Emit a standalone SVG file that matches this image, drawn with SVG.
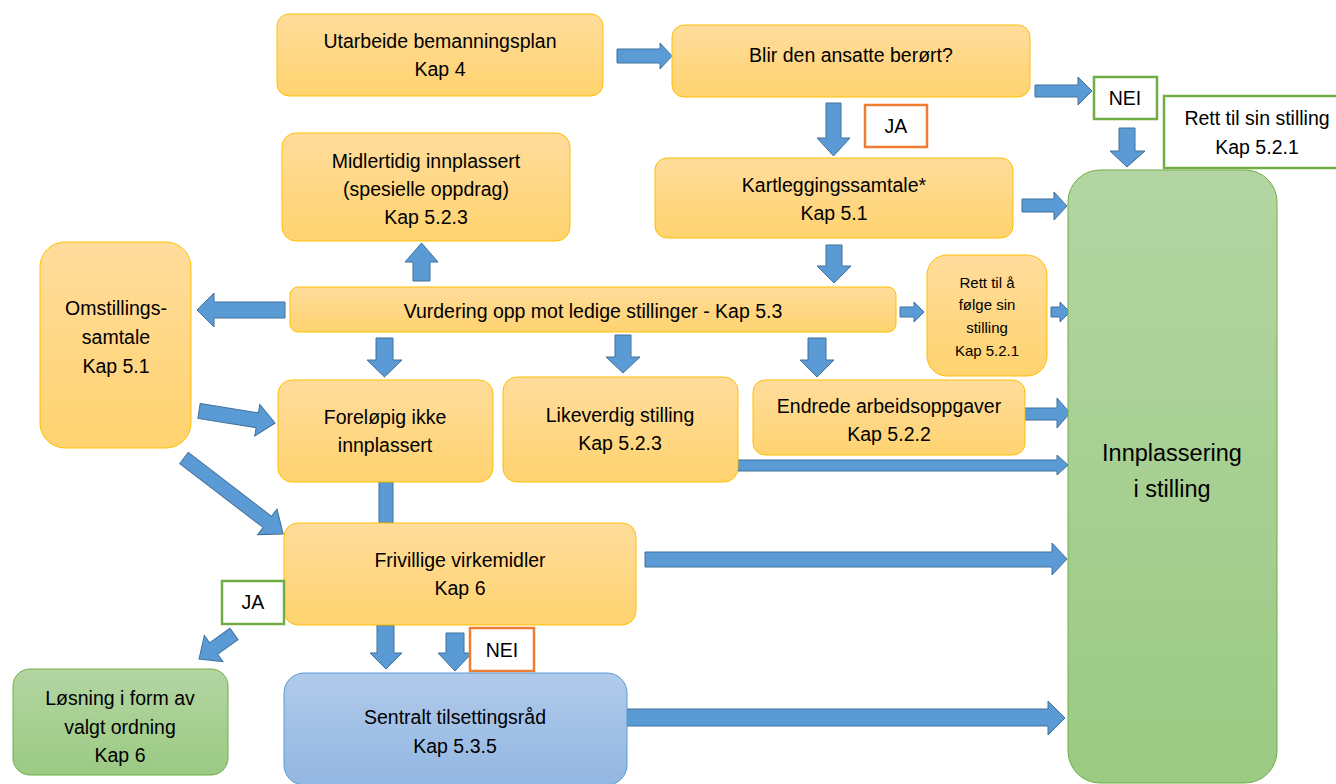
<svg xmlns="http://www.w3.org/2000/svg" width="1336" height="784" viewBox="0 0 1336 784">
<defs>
<linearGradient id="gO" x1="0" y1="0" x2="0" y2="1"><stop offset="0" stop-color="#FFDC9C"/><stop offset="1" stop-color="#FFD36F"/></linearGradient>
<linearGradient id="gG" x1="0" y1="0" x2="0" y2="1"><stop offset="0" stop-color="#B3D5A2"/><stop offset="1" stop-color="#9BCA83"/></linearGradient>
<linearGradient id="gB" x1="0" y1="0" x2="0" y2="1"><stop offset="0" stop-color="#B0CAEA"/><stop offset="1" stop-color="#93B7E2"/></linearGradient>
<style>
.o{fill:url(#gO);stroke:#FFC000;stroke-width:1}
.g{fill:url(#gG);stroke:#70AD47;stroke-width:1}
.b{fill:url(#gB);stroke:#5B9BD5;stroke-width:1}
.lg{fill:#FFFFFF;stroke:#70AD47;stroke-width:2.5}
.lo{fill:#FFFFFF;stroke:#ED7D31;stroke-width:2.5}
.ar{fill:#5B9BD5;stroke:#41719C;stroke-width:1;stroke-linejoin:miter}
text{font-family:"Liberation Sans",Arial,sans-serif;font-size:19.5px;fill:#000;text-anchor:middle;dominant-baseline:central}
.s{font-size:15px}
.big{font-size:23.5px}
</style>
</defs>
<rect width="1336" height="784" fill="#FFFFFF"/>
<g id="connectors">
<polygon class="ar" points="617,49 660,49 660,43 672,56 660,69 660,63 617,63"/>
<polygon class="ar" points="1035,85 1078,85 1078,77 1092,91 1078,105 1078,97 1035,97"/>
<polygon class="ar" points="1119,128 1135,128 1135,151 1145,151 1127,167 1110,151 1119,151"/>
<polygon class="ar" points="826,103 841,103 841,138 850,138 833.5,156 817,138 826,138"/>
<polygon class="ar" points="1022,199 1054,199 1054,192 1067,206 1054,220 1054,212 1022,212"/>
<polygon class="ar" points="826,245 842,245 842,266 851,266 834,283 817,266 826,266"/>
<polygon class="ar" points="413,281 430,281 430,262 438,262 421.5,243 405,262 413,262"/>
<polygon class="ar" points="285,302 214,302 214,293 197,310 214,327 214,318 285,318"/>
<polygon class="ar" points="900,307 914,307 914,302 924,312 914,322 914,317 900,317"/>
<polygon class="ar" points="1051,307 1060,307 1060,302 1070,312 1060,322 1060,317 1051,317"/>
<polygon class="ar" points="376,338 393,338 393,360 402,360 384.5,377 367,360 376,360"/>
<polygon class="ar" points="615,335 631,335 631,357 640,357 623,373 606,357 615,357"/>
<polygon class="ar" points="808,338 826,338 826,360 834,360 817,377 800,360 808,360"/>
<polygon class="ar" points="1025,408 1057,408 1057,398 1070,413 1057,428 1057,420 1025,420"/>
<polygon class="ar" points="738,460 1057,460 1057,455 1068,465 1057,475 1057,471 738,471"/>
<polygon class="ar" transform="translate(199,411) rotate(9)" points="0,-7.5 59,-7.5 59,-16 77,0 59,16 59,7.5 0,7.5"/>
<polygon class="ar" transform="translate(184,458) rotate(37.5)" points="0,-7 105,-7 105,-16 125,0 105,16 105,7 0,7"/>
<polygon class="ar" points="379,482 393,482 393,523 379,523"/>
<polygon class="ar" points="645,552 1052,552 1052,543 1067,559 1052,575 1052,567 645,567"/>
<polygon class="ar" points="626,709 1048,709 1048,701 1065,718 1048,735 1048,726 626,726"/>
<polygon class="ar" transform="translate(234,634) rotate(144.5)" points="0,-7 25,-7 25,-16 43,0 25,16 25,7 0,7"/>
<polygon class="ar" points="377,625 394,625 394,653 402,653 386,669 370,653 377,653"/>
<polygon class="ar" points="446,633 464,633 464,653 472,653 455,671 438,653 446,653"/>
</g>
<g id="utarbeide"><rect class="o" x="277" y="14" width="326" height="82" rx="12"/><text x="440" y="41">Utarbeide bemanningsplan</text><text x="440" y="69">Kap 4</text></g>
<g id="blir"><rect class="o" x="672" y="25" width="358" height="72" rx="12"/><text x="851" y="55">Blir den ansatte berørt?</text></g>
<g id="nei-top"><rect class="lg" x="1094" y="77" width="63" height="42"/><text x="1125" y="98">NEI</text></g>
<g id="rett-sin"><rect class="lg" x="1164" y="96" width="190" height="72"/><text x="1257" y="118">Rett til sin stilling</text><text x="1257" y="147">Kap 5.2.1</text></g>
<g id="ja-top"><rect class="lo" x="865" y="105" width="62" height="42"/><text x="896" y="126">JA</text></g>
<g id="kartlegging"><rect class="o" x="655" y="158" width="358" height="80" rx="12"/><text x="834" y="185">Kartleggingssamtale*</text><text x="834" y="213">Kap 5.1</text></g>
<g id="midlertidig"><rect class="o" x="282" y="133" width="288" height="108" rx="14"/><text x="426" y="161">Midlertidig innplassert</text><text x="426" y="189">(spesielle oppdrag)</text><text x="426" y="217">Kap 5.2.3</text></g>
<g id="omstilling"><rect class="o" x="40" y="242" width="151" height="206" rx="25"/><text x="116" y="308">Omstillings-</text><text x="116" y="337">samtale</text><text x="116" y="366">Kap 5.1</text></g>
<g id="vurdering"><rect class="o" x="290" y="287" width="606" height="45" rx="8"/><text x="593" y="311">Vurdering opp mot ledige stillinger - Kap 5.3</text></g>
<g id="rett-folge"><rect class="o" x="927" y="255" width="120" height="121" rx="20"/><text class="s" x="987" y="282">Rett til å</text><text class="s" x="987" y="304">følge sin</text><text class="s" x="987" y="327">stilling</text><text class="s" x="987" y="350">Kap 5.2.1</text></g>
<g id="forelopig"><rect class="o" x="278" y="380" width="215" height="102" rx="14"/><text x="385" y="417">Foreløpig ikke</text><text x="385" y="445">innplassert</text></g>
<g id="likeverdig"><rect class="o" x="503" y="377" width="235" height="105" rx="14"/><text x="620" y="415">Likeverdig stilling</text><text x="620" y="443">Kap 5.2.3</text></g>
<g id="endrede"><rect class="o" x="753" y="380" width="272" height="75" rx="12"/><text x="889" y="406">Endrede arbeidsoppgaver</text><text x="889" y="434">Kap 5.2.2</text></g>
<g id="innplassering"><rect class="g" x="1068" y="170" width="209" height="613" rx="32"/><text class="big" x="1172" y="453">Innplassering</text><text class="big" x="1172" y="489">i stilling</text></g>
<g id="frivillige"><rect class="o" x="284" y="523" width="352" height="102" rx="14"/><text x="460" y="560">Frivillige virkemidler</text><text x="460" y="588">Kap 6</text></g>
<g id="ja-bottom"><rect class="lg" x="222" y="581" width="62" height="43"/><text x="253" y="602">JA</text></g>
<g id="nei-bottom"><rect class="lo" x="470" y="628" width="64" height="43"/><text x="502" y="650">NEI</text></g>
<g id="losning"><rect class="g" x="13" y="669" width="215" height="106" rx="17"/><text x="120" y="698">Løsning i form av</text><text x="120" y="727">valgt ordning</text><text x="120" y="755">Kap 6</text></g>
<g id="sentralt"><rect class="b" x="284" y="673" width="343" height="112" rx="20"/><text x="455" y="717">Sentralt tilsettingsråd</text><text x="455" y="746">Kap 5.3.5</text></g>
</svg>
